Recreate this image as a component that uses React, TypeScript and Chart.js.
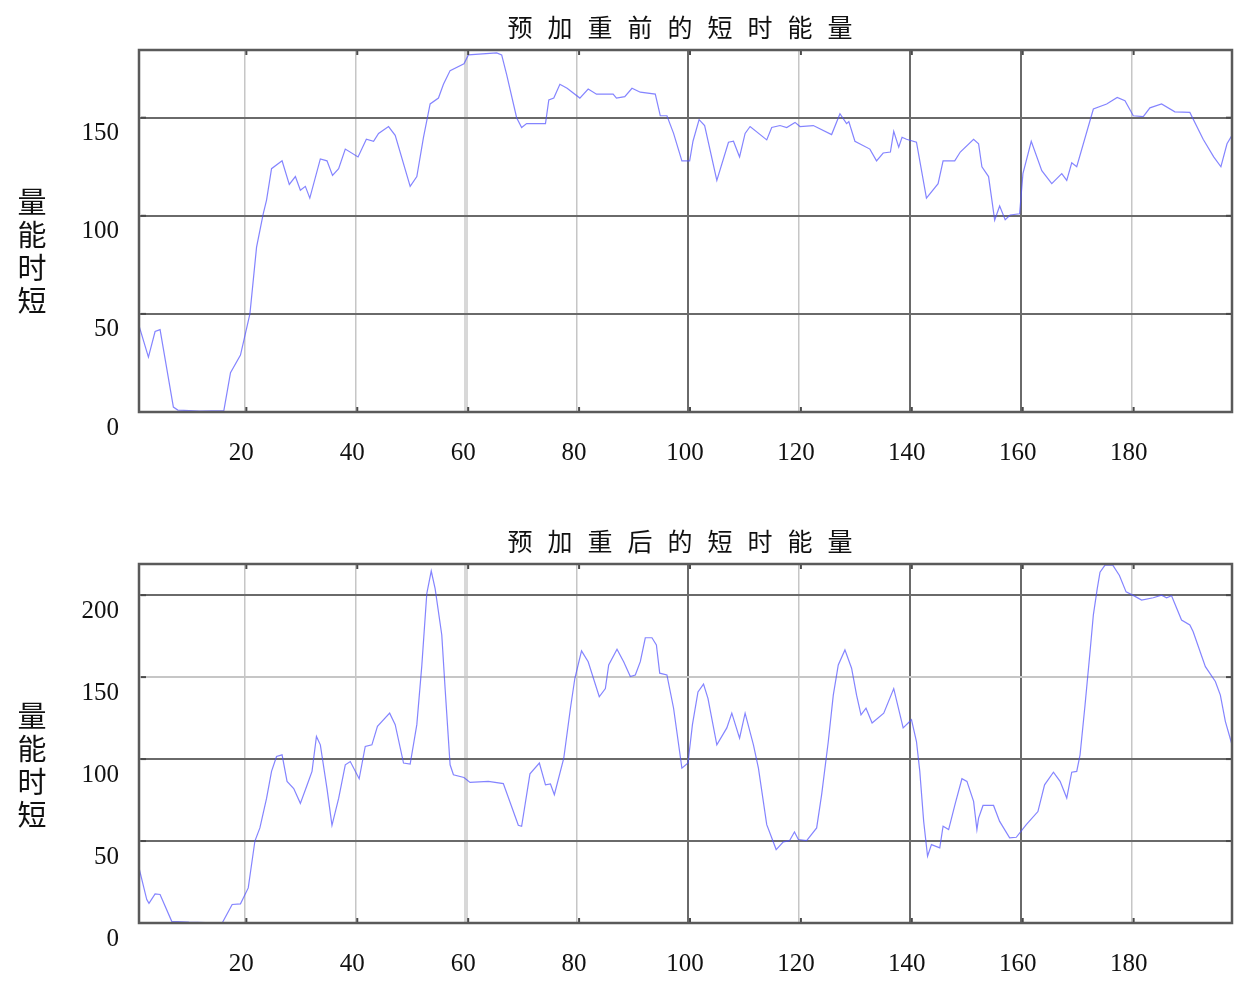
import React, { useEffect, useRef } from "react";
import { Chart, registerables } from "chart.js";

Chart.register(...registerables);

// ---------- data ----------
const topX = [1, 2.7, 3.9, 4.8, 7.2, 8, 12, 16.3, 17.5, 19.3, 21, 22.2, 23.4, 24, 24.9, 26.8, 28.1, 29.2, 30.1, 31, 31.8, 33.7, 34.9, 35.9, 37, 38.2, 40.5, 42, 43.3, 44.2, 46, 47.2, 49.9, 51.1, 52.3, 53.5, 55, 55.9, 57.1, 59.6, 60.4, 65.5, 66.4, 67.3, 69.1, 70, 70.9, 74.3, 74.9, 75.8, 76.9, 78.2, 80.5, 82, 83.5, 86.5, 87.1, 88.6, 89.9, 91.4, 94.1, 95, 96.2, 97.4, 98.9, 100.3, 100.9, 102, 103, 105.2, 107.3, 108.2, 109.3, 110.3, 111.2, 114.2, 115.1, 116.6, 117.8, 119.3, 120.2, 122.6, 125.9, 127.4, 128.6, 129, 130.1, 132.8, 134, 135.2, 136.5, 137.1, 138, 138.6, 139.4, 141.2, 143, 145.1, 146, 148.1, 149.1, 151.5, 152.4, 153, 154.2, 154.8, 155.3, 156.2, 157.2, 158.1, 159.8, 160.4, 161.9, 163.8, 165.6, 167.4, 168.3, 169.2, 170.1, 173.1, 175.5, 177.4, 178.8, 180.3, 182.1, 183.3, 185.4, 187.8, 190.5, 192.9, 194.8, 196.1, 197.2, 198.1];
const topY = [44, 28, 41, 42, 2.5, 1, 0.5, 0.7, 20, 29, 50, 84, 101, 108, 124, 128, 116, 120, 113, 115, 109, 129, 128, 120.6, 124, 134, 130, 139, 138, 142, 145.5, 141, 115, 120, 140, 157, 160, 167, 174, 177.5, 182, 183, 182, 172, 150, 145, 147, 147, 159, 160, 167, 165, 160, 164.6, 162, 162, 160, 160.7, 165, 163, 162, 151, 151, 142, 128, 128, 138, 149, 146, 118, 137.5, 138, 130, 142, 145.5, 138.7, 145, 146, 145, 147.6, 145.5, 146, 141.4, 152, 147, 148, 138, 134, 128, 132, 132.5, 143, 135, 140, 139, 137.5, 109, 116.4, 128, 128, 132.5, 139, 136.7, 125, 120, 108, 97.8, 105, 98, 100.4, 101, 121.5, 138, 123, 116.4, 121.5, 118, 127, 125, 154.4, 157, 160.3, 158.6, 151, 150.5, 155, 157, 153, 152.7, 139, 130, 125, 136.7, 141];

const botX = [1, 2.4, 2.8, 3.9, 4.8, 6.9, 10, 16, 17.8, 19.3, 20.7, 21.9, 22.8, 24, 24.9, 25.8, 26.8, 27.7, 28.9, 30.1, 31.3, 32.2, 33, 33.7, 34.9, 35.8, 37, 38.2, 39.1, 40.7, 41.8, 43, 44, 46.2, 47.2, 48.7, 49.9, 51.1, 52, 52.9, 53.7, 54.4, 55.6, 56.2, 57.1, 57.7, 59.6, 60.7, 64, 66.7, 69.4, 70, 71.5, 73.2, 74.3, 75.2, 75.9, 77.6, 78.8, 79.6, 80.8, 82, 84, 85.1, 85.7, 87.2, 88.4, 89.6, 90.5, 91.4, 92.3, 93.5, 94.3, 94.9, 96.2, 97.4, 98.9, 100, 100.8, 101.8, 102.8, 103.6, 105.2, 107, 107.9, 109.3, 110.3, 111.8, 112.7, 114.2, 115.9, 117.2, 118.3, 119.2, 119.9, 121.4, 123.2, 124.1, 125.3, 126.2, 127.1, 128.3, 129.5, 130.4, 131.2, 132.1, 133.2, 135.3, 137.1, 138.8, 140.3, 141.2, 141.8, 142.5, 143.2, 143.9, 145.4, 146, 147, 148.2, 149.4, 150.3, 151.5, 152.1, 152.4, 153.2, 155.1, 156.2, 158, 159.2, 161, 163.1, 164.3, 165.9, 167.1, 168.3, 169.2, 170.1, 170.7, 171.6, 172.5, 173.1, 173.8, 174.3, 175.2, 176.6, 177.8, 179, 180.2, 181.8, 183.9, 185.4, 186.3, 187.2, 189, 190.5, 191.1, 193.3, 195.1, 196, 196.9, 198.1];
const botY = [33.6, 14.3, 12, 17.8, 17.4, 1, 0.5, 0, 11.3, 11.7, 21.4, 50, 58, 76, 92.5, 101.6, 102.6, 86.4, 82, 73, 84, 92.5, 113.8, 108.7, 82, 59.6, 76, 96.5, 98.5, 88, 107.7, 108.7, 120, 128, 121, 97.6, 97, 121, 157, 201, 214.7, 204, 175.7, 143, 96.5, 90.4, 88.8, 85.8, 86.4, 85, 59.6, 59, 91, 97.6, 84.3, 84.8, 78.3, 100.6, 131, 149.3, 166, 159.4, 138, 143, 157.4, 167, 159.4, 150.3, 151.3, 159.4, 174, 174, 169.6, 152.4, 151.3, 131, 94.5, 97.6, 121, 141, 145.7, 137, 108.7, 119, 128, 112.8, 128, 108.7, 94.5, 60, 44.8, 49.5, 50.2, 55.5, 50.9, 50.2, 58, 78.3, 110.7, 139, 157.4, 166.6, 155.4, 139, 127, 131, 122, 128, 143, 119, 124, 110.7, 92.5, 62, 40.7, 47.8, 45.8, 59, 57, 73, 88, 86.4, 74.2, 57, 64, 71.7, 71.7, 62, 51.9, 52.3, 60, 68, 84.3, 92, 86.4, 76.2, 92, 92.5, 102.6, 133, 165.5, 188, 204, 214, 218.3, 218.3, 212, 202, 200, 197, 198.4, 200, 198.4, 199.6, 184.8, 181.8, 177.7, 156.4, 147.3, 139, 123, 108.7];

const xTicks = [20, 40, 60, 80, 100, 120, 140, 160, 180];
const topYTicks = [0, 50, 100, 150];
const botYTicks = [0, 50, 100, 150, 200];
const topTitle = "预加重前的短时能量";
const botTitle = "预加重后的短时能量";
const yLabel = "量能时短";

// ---------- styling ----------
const DARK = "#6a6a6a";
const LIGHT = "#c6c6c6";
const BAND = "#d8d8d8";
const darkXGrid = [100, 140, 160];

type PanelProps = {
  xs: number[];
  ys: number[];
  yTicks: number[];
  yMax: number;
  title: string;
  lightY: number[];
  top: number;
  height: number;
  areaTop: number;
  areaBottom: number;
};

function Panel(p: PanelProps) {
  const ref = useRef<HTMLCanvasElement | null>(null);
  useEffect(() => {
    if (!ref.current) return;
    const pts = p.xs.map((x, i) => ({ x, y: p.ys[i] }));
    const decor = {
      id: "decor",
      afterDraw(chart: any) {
        const { ctx, chartArea: a, scales } = chart;
        ctx.save();
        ctx.strokeStyle = "#4a4a4a";
        ctx.lineWidth = 2;
        const seg = (x1: number, y1: number, x2: number, y2: number) => {
          ctx.beginPath();
          ctx.moveTo(x1, y1);
          ctx.lineTo(x2, y2);
          ctx.stroke();
        };
        xTicks.forEach((v) => {
          const px = scales.x.getPixelForValue(v) + 2;
          seg(px, a.top, px, a.top + 5);
          seg(px, a.bottom, px, a.bottom - 5);
        });
        p.yTicks.forEach((v) => {
          const py = scales.y.getPixelForValue(v);
          seg(a.left + 2, py, a.left + 7, py);
          seg(a.right, py, a.right - 6, py);
        });
        ctx.strokeStyle = "#5a5a5a";
        ctx.lineWidth = 2.5;
        ctx.strokeRect(a.left, a.top, a.right - a.left, a.bottom - a.top);
        ctx.fillStyle = "#111";
        ctx.textAlign = "center";
        ctx.textBaseline = "middle";
        ctx.font = '25px "Noto Sans CJK SC"';
        Array.from(p.title).forEach((ch, i) => {
          ctx.fillText(ch, 680 + (i - 4) * 40, a.top - 23);
        });
        ctx.font = '29px "Noto Sans CJK SC"';
        Array.from(yLabel).forEach((ch, i) => {
          ctx.fillText(ch, 32, a.top + 152 + i * 33);
        });
        ctx.restore();
      },
    };
    const chart = new Chart(ref.current, {
      type: "line",
      data: {
        datasets: [
          {
            data: pts,
            borderColor: "rgba(80,80,255,0.7)",
            borderWidth: 1.2,
            pointRadius: 0,
            tension: 0,
            fill: false,
          },
        ],
      },
      options: {
        animation: false,
        responsive: false,
        devicePixelRatio: 1,
        parsing: false as any,
        layout: { padding: { top: p.areaTop, right: 6, left: 0, bottom: 0 } },
        plugins: { legend: { display: false }, tooltip: { enabled: false }, title: { display: false } },
        scales: {
          x: {
            type: "linear",
            min: 1,
            max: 198.1,
            afterBuildTicks: (s: any) => {
              s.ticks = xTicks.map((v) => ({ value: v }));
            },
            afterFit: (s: any) => {
              s.height = p.height - p.areaBottom;
            },
            border: { display: false },
            grid: {
              drawTicks: false,
              color: (c: any) => (c.tick && c.tick.value === 60 ? BAND : darkXGrid.includes(c.tick && c.tick.value) ? DARK : LIGHT),
              lineWidth: (c: any) => (c.tick && c.tick.value === 60 ? 4 : darkXGrid.includes(c.tick && c.tick.value) ? 2 : 1.5),
            },
            ticks: {
              padding: 26,
              labelOffset: -3,
              maxRotation: 0,
              autoSkip: false,
              color: "#111",
              font: { family: '"Liberation Serif", serif', size: 25, lineHeight: 1.2 },
            },
          },
          y: {
            type: "linear",
            min: 0,
            max: p.yMax,
            afterBuildTicks: (s: any) => {
              s.ticks = p.yTicks.map((v) => ({ value: v }));
            },
            afterFit: (s: any) => {
              s.width = 139;
            },
            border: { display: false },
            grid: {
              drawTicks: false,
              color: (c: any) => (p.lightY.includes(c.tick && c.tick.value) ? LIGHT : DARK),
              lineWidth: 2,
            },
            ticks: {
              padding: 20,
              labelOffset: 16,
              autoSkip: false,
              color: "#111",
              font: { family: '"Liberation Serif", serif', size: 25 },
            },
          },
        },
      },
      plugins: [decor],
    } as any);
    return () => chart.destroy();
  }, []);
  return (
    <canvas
      ref={ref}
      width={1238}
      height={p.height}
      style={{ position: "absolute", left: 0, top: p.top, width: 1238, height: p.height }}
    />
  );
}

export default function App() {
  return (
    <div style={{ position: "absolute", left: 0, top: 0, width: 1238, height: 981, background: "#fff" }}>
      <Panel xs={topX} ys={topY} yTicks={topYTicks} yMax={184.5} title={topTitle} lightY={[]} top={0} height={490} areaTop={50} areaBottom={412} />
      <Panel xs={botX} ys={botY} yTicks={botYTicks} yMax={219} title={botTitle} lightY={[150]} top={490} height={491} areaTop={74} areaBottom={433} />
    </div>
  );
}
